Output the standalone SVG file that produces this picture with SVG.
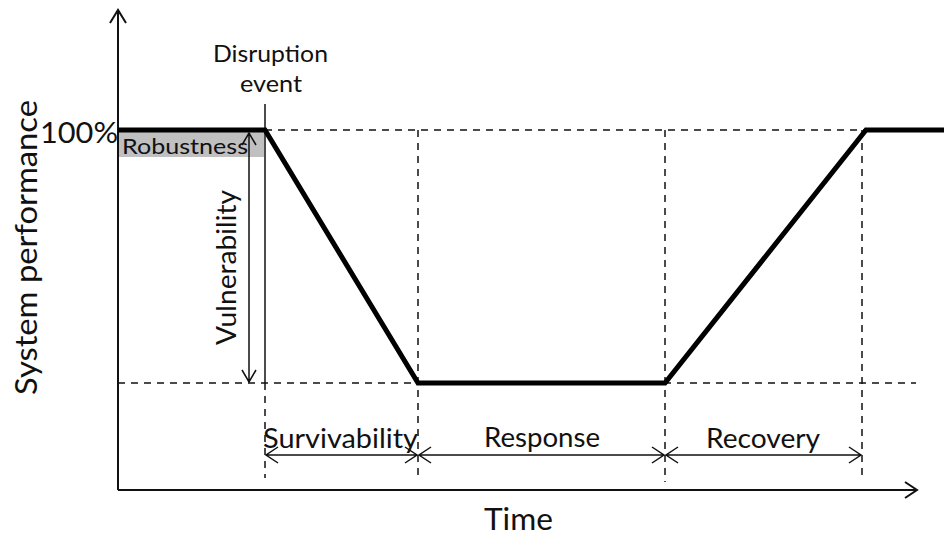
<svg xmlns="http://www.w3.org/2000/svg" width="944" height="536" viewBox="0 0 944 536">
<style>
text{font-family:Lato,"Open Sans","Liberation Sans",sans-serif;fill:#111}
.ax{stroke:#111;stroke-width:2;fill:none}
.thin{stroke:#111;stroke-width:1.5;fill:none}
.dash{stroke:#111;stroke-width:1.5;fill:none;stroke-dasharray:7,6}
.thick{stroke:#000;stroke-width:5;fill:none;stroke-linejoin:miter}
</style>
<rect width="944" height="536" fill="#fff"/>
<g id="robustness">
<rect x="119" y="131" width="145" height="26" fill="#c0c0c0"/>
<text x="122" y="154" font-size="22" textLength="126" lengthAdjust="spacingAndGlyphs">Robustness</text>
</g>
<g id="connectors">
<path class="ax" d="M118 490V10M110 23L118 10L126 23"/>
<path class="ax" d="M118 490H917M905 482L917 490L905 498"/>
<path class="dash" d="M265 130H865M118 383H916"/>
<path class="thin" d="M265 104V383"/>
<path class="dash" d="M265 383V478M418 130V478M665 130V482M862 130V478"/>
<path class="thick" d="M118 130H265L418 383H665L866 130H944"/>
<path class="thin" d="M249 133V382M242 145L249 133L256 145M242 370L249 382L256 370"/>
<path class="thin" d="M266 455H417M278 447L266 455L278 463M405 447L417 455L405 463"/>
<path class="thin" d="M419 455H664M431 447L419 455L431 463M652 447L664 455L652 463"/>
<path class="thin" d="M666 455H861M678 447L666 455L678 463M849 447L861 455L849 463"/>
</g>
<g id="labels">
<text x="213" y="62" font-size="24" textLength="115" lengthAdjust="spacingAndGlyphs">Disruption</text>
<text x="240" y="92" font-size="24" textLength="62" lengthAdjust="spacingAndGlyphs">event</text>
<text x="40" y="143" font-size="29" textLength="78" lengthAdjust="spacingAndGlyphs">100%</text>
<text transform="translate(37,395) rotate(-90)" font-size="31" textLength="295" lengthAdjust="spacingAndGlyphs">System performance</text>
<text transform="translate(236,345) rotate(-90)" font-size="27" textLength="155" lengthAdjust="spacingAndGlyphs">Vulnerability</text>
<text x="263" y="448" font-size="27" textLength="155" lengthAdjust="spacingAndGlyphs">Survivability</text>
<text x="484" y="447" font-size="27" textLength="116" lengthAdjust="spacingAndGlyphs">Response</text>
<text x="706" y="448" font-size="27" textLength="114" lengthAdjust="spacingAndGlyphs">Recovery</text>
<text x="484" y="530" font-size="31" textLength="69" lengthAdjust="spacingAndGlyphs">Time</text>
</g>
</svg>
